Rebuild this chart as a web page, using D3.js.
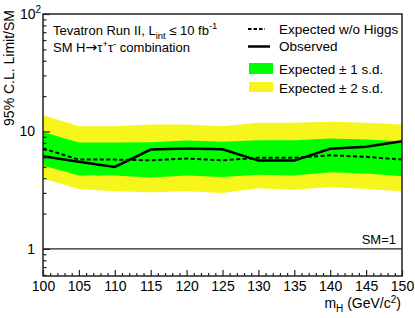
<!DOCTYPE html>
<html>
<head>
<meta charset="utf-8">
<script src="https://cdn.jsdelivr.net/npm/d3@7"></script>
<style>
  body { margin: 0; background: #fff; }
  text { font-family: "Liberation Sans", Arial, Helvetica, sans-serif; fill: #000; }
</style>
</head>
<body>
<div id="container"></div>
<script>
// Higgs mass points (GeV/c^2)
const masses = [100, 105, 110, 115, 120, 125, 130, 135, 140, 145, 150];
// limits / SM
const observed = [6.15, 5.52, 4.99, 7.02, 7.16, 7.05, 5.65, 5.65, 7.11, 7.40, 8.26];
const expected = [7.16, 5.76, 5.76, 5.68, 5.88, 5.68, 5.96, 5.96, 6.27, 6.08, 5.76];
const plus1 = [9.90, 8.05, 8.05, 8.10, 8.38, 8.16, 8.43, 8.43, 8.71, 8.55, 8.26];
const minus1 = [5.12, 4.21, 4.21, 4.05, 4.21, 4.09, 4.29, 4.21, 4.49, 4.38, 4.15];
const plus2 = [13.8, 11.1, 11.1, 11.48, 11.48, 11.1, 11.87, 11.87, 12.1, 11.87, 11.48];
const minus2 = [3.97, 3.23, 3.09, 3.03, 3.09, 2.99, 3.28, 3.19, 3.37, 3.23, 3.09];
const xMajor = [100, 105, 110, 115, 120, 125, 130, 135, 140, 145, 150];

const w = 415, h = 318;
const pLeft = 43, pRight = 402, pTop = 14, pBottom = 276;

const svg = d3.select("#container").append("svg")
  .attr("width", w).attr("height", h);

const x = d3.scaleLinear().domain([100, 150]).range([pLeft, pRight]);
const y = d3.scaleLog().domain([0.588, 100]).range([pBottom, pTop]);

const pts = masses.map((m, i) => ({ m, obs: observed[i], exp: expected[i], p1: plus1[i], m1: minus1[i], p2: plus2[i], m2: minus2[i] }));

// bands
const band = (lo, hi) => d3.area().x(d => x(d.m)).y0(d => y(d[lo])).y1(d => y(d[hi]));
svg.append("path").datum(pts).attr("d", band("m2", "p2")).attr("fill", "#f6f61c");
svg.append("path").datum(pts).attr("d", band("m1", "p1")).attr("fill", "#00ff00");

// lines
const line = key => d3.line().x(d => x(d.m)).y(d => y(d[key]));
svg.append("path").datum(pts).attr("d", line("exp"))
  .attr("fill", "none").attr("stroke", "#000").attr("stroke-width", 2).attr("stroke-dasharray", "4,2.5");
svg.append("path").datum(pts).attr("d", line("obs"))
  .attr("fill", "none").attr("stroke", "#000").attr("stroke-width", 2.5);

// SM=1 line
svg.append("line").attr("x1", pLeft).attr("x2", pRight).attr("y1", y(1)).attr("y2", y(1))
  .attr("stroke", "#222").attr("stroke-width", 1.2);
svg.append("text").attr("x", 396).attr("y", y(1) - 5).attr("text-anchor", "end")
  .style("font-size", "13px").text("SM=1");

// axes (ticks point inward)
const gx = svg.append("g").attr("transform", "translate(0," + pBottom + ")");
gx.call(d3.axisBottom(x).tickValues(xMajor).tickSize(-6).tickPadding(5).tickFormat(d3.format("d")));
const minorX = d3.range(101, 150).filter(v => v % 5 !== 0);
svg.append("g").attr("transform", "translate(0," + pBottom + ")")
  .call(d3.axisBottom(x).tickValues(minorX).tickSize(-3).tickFormat(""));

const gy = svg.append("g").attr("transform", "translate(" + pLeft + ",0)");
gy.call(d3.axisLeft(y).tickValues([1, 10, 100]).tickSize(-7).tickFormat(""));
const minorY = [0.6, 0.7, 0.8, 0.9, 2, 3, 4, 5, 6, 7, 8, 9, 20, 30, 40, 50, 60, 70, 80, 90];
svg.append("g").attr("transform", "translate(" + pLeft + ",0)")
  .call(d3.axisLeft(y).tickValues(minorY).tickSize(-3.5).tickFormat(""));

svg.selectAll(".domain").remove();
svg.selectAll(".tick line").attr("stroke", "#222").attr("stroke-width", 1.2);
gx.selectAll(".tick text").style("font-size", "14px").attr("fill", "#000")
  .attr("font-family", null).attr("dy", "0.68em");

// y tick labels
svg.append("text").attr("x", 35).attr("y", y(1) + 5).attr("text-anchor", "end").style("font-size", "14px").text("1");
svg.append("text").attr("x", 35).attr("y", y(10) + 5).attr("text-anchor", "end").style("font-size", "14px").text("10");
const t100 = svg.append("text").attr("x", 20).attr("y", y(100) + 5).style("font-size", "14px");
t100.append("tspan").text("10");
t100.append("tspan").attr("dy", -6).style("font-size", "10px").text("2");

// frame
svg.append("rect").attr("x", pLeft).attr("y", pTop).attr("width", pRight - pLeft).attr("height", pBottom - pTop)
  .attr("fill", "none").attr("stroke", "#222").attr("stroke-width", 1.5);

// axis titles
svg.append("text").attr("transform", "translate(14,10) rotate(-90)").attr("text-anchor", "end")
  .style("font-size", "14px").text("95% C.L. Limit/SM");
const xt = svg.append("text").attr("x", 401).attr("y", 308).attr("text-anchor", "end").style("font-size", "14px");
xt.append("tspan").text("m");
xt.append("tspan").attr("dy", 4).style("font-size", "10px").text("H");
xt.append("tspan").attr("dy", -4).text(" (GeV/c");
xt.append("tspan").attr("dy", -5).style("font-size", "10px").text("2");
xt.append("tspan").attr("dy", 5).text(")");

// annotation
const t1 = svg.append("text").attr("x", 53).attr("y", 35).style("font-size", "13px");
t1.append("tspan").text("Tevatron Run II, L");
t1.append("tspan").attr("dy", 4).style("font-size", "9.5px").text("int");
t1.append("tspan").attr("dy", -4).text(" \u2264 10 fb");
t1.append("tspan").attr("dy", -6).style("font-size", "9.5px").text("-1");
const t2 = svg.append("text").attr("x", 53).attr("y", 52).style("font-size", "13px");
t2.append("tspan").text("SM H");
t2.append("tspan").style("font-family", "DejaVu Sans").style("font-size", "14px").text("\u2192");
t2.append("tspan").text("\u03c4");
t2.append("tspan").attr("dy", -5).style("font-size", "9.5px").text("+");
t2.append("tspan").attr("dy", 5).text("\u03c4");
t2.append("tspan").attr("dy", -5).style("font-size", "9.5px").text("-");
t2.append("tspan").attr("dy", 5).text(" combination");

// legend
const lx = 248, tx = 279;
svg.append("line").attr("x1", lx).attr("x2", lx + 17).attr("y1", 29).attr("y2", 29)
  .attr("stroke", "#000").attr("stroke-width", 2).attr("stroke-dasharray", "3.5,2");
svg.append("text").attr("x", tx).attr("y", 34).style("font-size", "13.5px").text("Expected w/o Higgs");
svg.append("line").attr("x1", lx).attr("x2", lx + 22).attr("y1", 46.5).attr("y2", 46.5)
  .attr("stroke", "#000").attr("stroke-width", 2.5);
svg.append("text").attr("x", tx).attr("y", 51).style("font-size", "13.5px").text("Observed");
svg.append("rect").attr("x", lx + 1).attr("y", 63).attr("width", 24).attr("height", 11).attr("fill", "#00ff00");
svg.append("text").attr("x", tx).attr("y", 74).style("font-size", "13.5px").text("Expected \u00b1 1 s.d.");
svg.append("rect").attr("x", lx + 1).attr("y", 82).attr("width", 24).attr("height", 10).attr("fill", "#f6f61c");
svg.append("text").attr("x", tx).attr("y", 93).style("font-size", "13.5px").text("Expected \u00b1 2 s.d.");
</script>
</body>
</html>
